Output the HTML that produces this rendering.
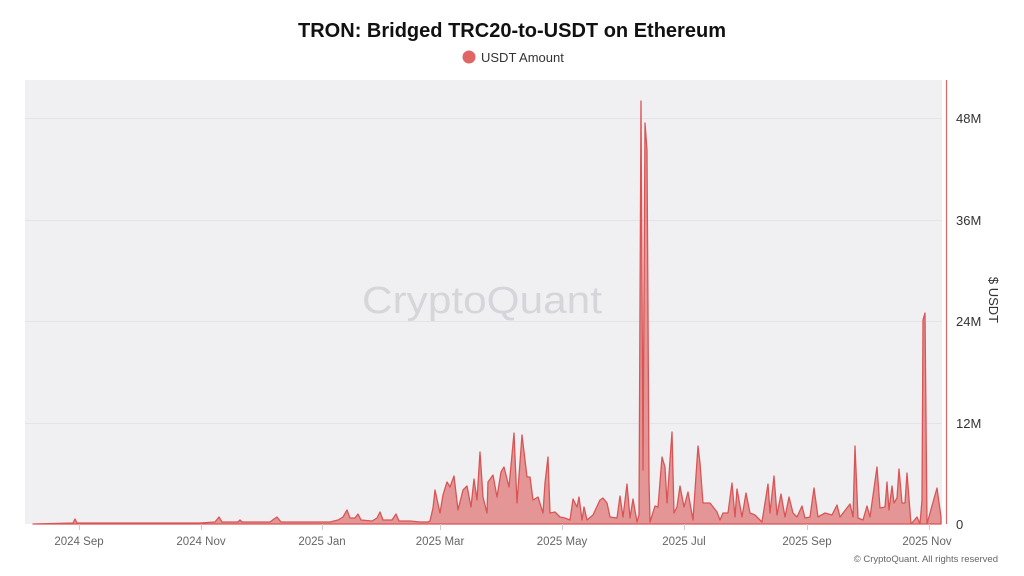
<!DOCTYPE html>
<html><head><meta charset="utf-8"><style>
html,body{margin:0;padding:0;background:#fff;width:1024px;height:576px;overflow:hidden}
svg{display:block;font-family:"Liberation Sans",sans-serif}
</style></head><body>
<svg width="1024" height="576" viewBox="0 0 1024 576">
<rect x="0" y="0" width="1024" height="576" fill="#fff"/>
<text x="512" y="37" text-anchor="middle" font-size="20" font-weight="bold" fill="#111" textLength="428" lengthAdjust="spacingAndGlyphs">TRON: Bridged TRC20-to-USDT on Ethereum</text>
<circle cx="469" cy="57" r="6.5" fill="#e06666"/>
<text x="481" y="62" font-size="13" fill="#333">USDT Amount</text>
<rect x="25" y="80" width="917" height="444" fill="#f0f0f3"/>
<g stroke="#e4e4e8" stroke-width="1">
<line x1="25" y1="118.5" x2="942" y2="118.5"/>
<line x1="25" y1="220.5" x2="942" y2="220.5"/>
<line x1="25" y1="321.5" x2="942" y2="321.5"/>
<line x1="25" y1="423.5" x2="942" y2="423.5"/>
</g>
<text x="482" y="313" text-anchor="middle" font-size="38" fill="#d6d6da" textLength="240" lengthAdjust="spacingAndGlyphs">CryptoQuant</text>
<path fill="#e28b8b" fill-opacity="0.9" stroke="#d95555" stroke-width="1.3" stroke-linejoin="round" d="M33,524 L73,523 L75,519 L77,523 L120,523 L150,523 L200,523 L215,522 L219,517 L222,522 L238,522 L240,520 L242,522 L260,522 L270,522 L274,519 L277,517 L281,522 L300,522 L320,522 L330,522 L338,520 L343,517 L347,510 L350,518 L355,518 L358,514 L361,520 L372,521 L377,518 L380,512 L383,520 L392,520 L396,514 L399,521 L410,521 L420,522 L428,522 L430,521 L433,508 L435,490 L440,513 L443,495 L447,482 L450,487 L454,476 L458,510 L463,490 L467,486 L471,507 L474,479 L477,500 L480,452 L483,497 L487,513 L488,482 L493,475 L497,497 L501,472 L504,467 L509,487 L514,433 L517,503 L522,435 L527,477 L530,477 L533,500 L538,497 L543,513 L545,483 L548,457 L550,513 L555,512 L560,517 L565,518 L570,520 L573,499 L577,507 L579,497 L582,520 L584,507 L587,520 L593,515 L600,500 L603,498 L607,503 L610,517 L617,518 L620,496 L623,517 L627,484 L630,518 L633,499 L637,522 L639,515 L641,101 L643,470 L645,123 L647,150 L649,480 L650,522 L655,506 L658,507 L662,457 L665,467 L667,503 L672,432 L674,513 L677,507 L680,486 L684,507 L688,492 L693,520 L698,446 L700,463 L703,503 L710,503 L717,512 L720,520 L723,513 L728,513 L732,483 L735,517 L737,489 L742,517 L746,493 L750,513 L755,515 L762,522 L768,484 L770,513 L774,476 L777,515 L781,494 L785,517 L789,497 L793,513 L797,517 L802,506 L805,518 L810,517 L814,488 L818,517 L825,513 L832,515 L837,505 L840,517 L850,504 L853,517 L855,446 L858,518 L863,520 L867,506 L870,517 L877,467 L880,508 L885,507 L887,482 L889,510 L892,486 L894,503 L897,498 L899,469 L902,503 L905,503 L907,473 L911,524 L917,517 L920,524 L922,500 L923,320 L925,313 L927,524 L930,513 L937,488 L941,517 L941,524 Z"/>
<line x1="946.5" y1="80" x2="946.5" y2="524" stroke="#e06666" stroke-width="1.2"/>
<g font-size="13" fill="#333">
<text x="956" y="123">48M</text>
<text x="956" y="225">36M</text>
<text x="956" y="326">24M</text>
<text x="956" y="428">12M</text>
<text x="956" y="529">0</text>
</g>
<text transform="translate(989,300) rotate(90)" text-anchor="middle" font-size="13" fill="#333">$ USDT</text>
<g stroke="#ccc"><line x1="79.5" y1="524" x2="79.5" y2="530"/><line x1="201.5" y1="524" x2="201.5" y2="530"/><line x1="322.5" y1="524" x2="322.5" y2="530"/><line x1="440.5" y1="524" x2="440.5" y2="530"/><line x1="562.5" y1="524" x2="562.5" y2="530"/><line x1="684.5" y1="524" x2="684.5" y2="530"/><line x1="807.5" y1="524" x2="807.5" y2="530"/><line x1="929.5" y1="524" x2="929.5" y2="530"/></g>
<g font-size="11.5" fill="#666" text-anchor="middle">
<text x="79" y="545">2024 Sep</text>
<text x="201" y="545">2024 Nov</text>
<text x="322" y="545">2025 Jan</text>
<text x="440" y="545">2025 Mar</text>
<text x="562" y="545">2025 May</text>
<text x="684" y="545">2025 Jul</text>
<text x="807" y="545">2025 Sep</text>
<text x="927" y="545">2025 Nov</text>
</g>
<text x="998" y="562" text-anchor="end" font-size="9.5" fill="#666">© CryptoQuant. All rights reserved</text>
</svg>
</body></html>
